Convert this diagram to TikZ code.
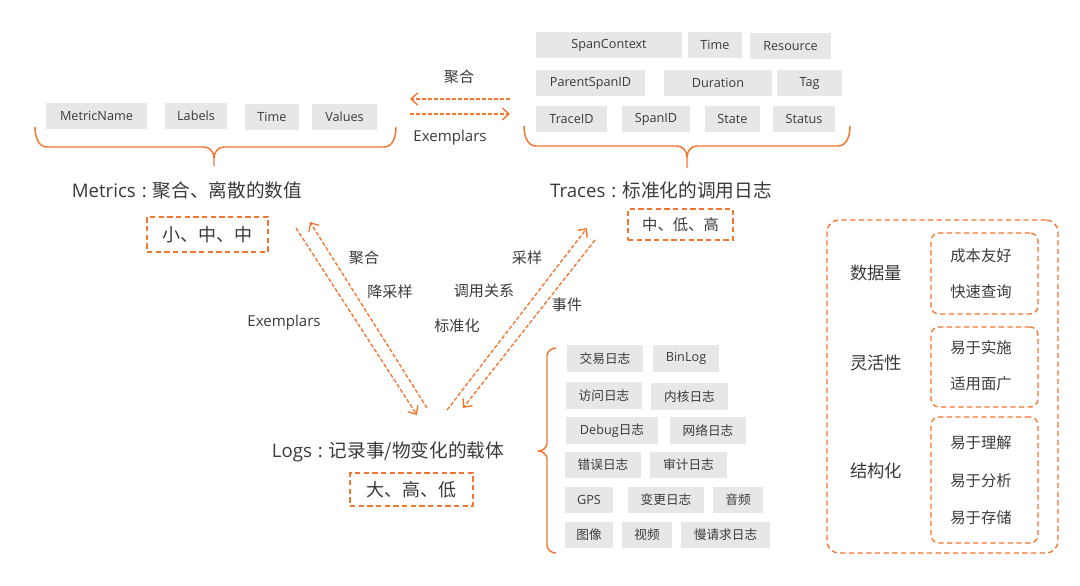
\documentclass[tikz,border=0pt]{standalone}
\usepackage{fontspec}
\setmainfont{Open Sans}
\newfontfamily\cjk{Noto Sans CJK SC}
\usetikzlibrary{arrows.meta,calc}
\definecolor{org}{RGB}{242,117,48}
\definecolor{txt}{RGB}{58,58,58}
\definecolor{gfill}{RGB}{231,231,231}
\tikzset{
 gbox/.style={fill=gfill, inner sep=0pt, text=txt, font=\fontsize{9.5}{11}\selectfont},
 brace/.style={draw=org, line width=1.1pt},
 darr/.style={draw=org, line width=1pt, dash pattern=on 3pt off 1.5pt, -{Straight Barb[length=5pt,width=9pt]}},
 dbox/.style={draw=org, line width=1pt, dash pattern=on 4pt off 2.5pt, inner sep=0pt},
 title/.style={text=txt, font=\fontsize{14}{16}\selectfont},
 lab/.style={text=txt, font=\fontsize{11.3}{14}\selectfont},
 side/.style={text=txt, font=\fontsize{13}{15}\selectfont\cjk},
 item/.style={text=txt, font=\fontsize{11.5}{14}\selectfont\cjk},
}
\newcommand\gb[6]{\node[gbox, minimum width={(#4-#2)*0.75pt}, minimum height={(#5-#3)*0.75pt}] (#1) at ({(#2+#4)/2},{(#3+#5)/2}) {#6};}
\newcommand\db[7]{\node[dbox, #7, minimum width={(#4-#2)*0.75pt}, minimum height={(#5-#3)*0.75pt}] (#1) at ({(#2+#4)/2},{(#3+#5)/2}) {#6};}
\newcommand\tcolon{\hspace{4.5pt}:\hspace{4.5pt}}
\begin{document}
\begin{tikzpicture}[x=0.75pt,y=-0.75pt]
\useasboundingbox (0,0) rectangle (1080,585);
% ---- Metrics fields
\gb{mn}{46}{103}{147}{129}{MetricName}
\gb{ml}{165}{103}{227}{129}{Labels}
\gb{mt}{245}{104}{299}{130}{Time}
\gb{mv}{312}{104}{377}{130}{Values}
\draw[brace] (35,127) to[out=-90,in=180] (47,147) -- (204,147) to[out=0,in=90] (214,158) -- (214,166);
\draw[brace] (396,127) to[out=-90,in=0] (384,147) -- (224,147) to[out=180,in=90] (214,158);
\node[title] (metrics) at (187,190) {Metrics\tcolon{\cjk 聚合、离散的数值}};
\db{mval}{147}{217}{268}{252}{{\cjk\fontsize{13.5}{16}\selectfont 小、中、中}}{text=txt}
% ---- Traces fields
\gb{sc}{536}{32}{682}{58}{SpanContext}
\gb{tt}{688}{32}{742}{58}{Time}
\gb{rs}{750}{33}{831}{59}{Resource}
\gb{ps}{536}{70}{645}{96}{ParentSpanID}
\gb{du}{664}{70}{772}{96}{Duration}
\gb{tg}{777}{70}{842}{96}{Tag}
\gb{ti}{536}{106}{607}{132}{TraceID}
\gb{si}{622}{106}{690}{132}{SpanID}
\gb{st}{705}{106}{760}{132}{State}
\gb{ss}{773}{106}{835}{132}{Status}
\draw[brace] (524,126) to[out=-90,in=180] (536,146) -- (677,146) to[out=0,in=90] (687,157) -- (687,168);
\draw[brace] (850,126) to[out=-90,in=0] (838,146) -- (697,146) to[out=180,in=90] (687,157);
\node[title] (traces) at (661,190) {Traces\tcolon{\cjk 标准化的调用日志}};
\db{tval}{628}{209}{733}{240}{{\cjk\fontsize{11.5}{14}\selectfont 中、低、高}}{text=txt}
% ---- horizontal arrows
\coordinate (h1s) at (510,99); \coordinate (h1e) at (410,99);
\coordinate (h2s) at (410,114); \coordinate (h2e) at (510,114);
\draw[darr] (h1s) -- (h1e);
\draw[darr] (h2s) -- (h2e);
\node[lab] (hjh) at (459,77) {\cjk 聚合};
\node[lab] (hex) at (450,138) {Exemplars};
% ---- Logs
\node[title] (logs) at (388,452) {Logs\tcolon{\cjk 记录事/物变化的载体}};
\db{lval}{350}{473}{473}{506}{{\cjk\fontsize{13.5}{16}\selectfont 大、高、低}}{text=txt}
% ---- V arrows
\coordinate (v1s) at (296,228); \coordinate (v1e) at (417,415);
\coordinate (v2s) at (427,408); \coordinate (v2e) at (310,222);
\coordinate (v3s) at (447,410); \coordinate (v3e) at (587,228);
\coordinate (v4s) at (595,240); \coordinate (v4e) at (463,408);
\draw[darr] (v1s) -- (v1e);
\draw[darr] (v2s) -- (v2e);
\draw[darr] (v3s) -- (v3e);
\draw[darr] (v4s) -- (v4e);
\node[lab] (l1) at (364,258) {\cjk 聚合};
\node[lab] (l2) at (390,292) {\cjk 降采样};
\node[lab] (l3) at (284,323) {Exemplars};
\node[lab] (l4) at (484,291) {\cjk 调用关系};
\node[lab] (l5) at (457,326) {\cjk 标准化};
\node[lab] (l6) at (527,258) {\cjk 采样};
\node[lab] (l7) at (567,305) {\cjk 事件};
% ---- Logs kinds
\draw[brace] (556,348) to[out=180,in=90] (547,356) -- (547,443) to[out=-90,in=0] (538,451);
\draw[brace] (556,553) to[out=180,in=-90] (547,545) -- (547,459) to[out=90,in=0] (538,451);
\gb{g1}{567}{345}{643}{372}{\cjk 交易日志}
\gb{g2}{653}{345}{719}{372}{BinLog}
\gb{g3}{566}{382}{642}{409}{\cjk 访问日志}
\gb{g4}{651}{383}{728}{410}{\cjk 内核日志}
\gb{g5}{566}{417}{658}{444}{Debug{\cjk 日志}}
\gb{g6}{670}{417}{746}{444}{\cjk 网络日志}
\gb{g7}{565}{452}{641}{478}{\cjk 错误日志}
\gb{g8}{650}{452}{727}{478}{\cjk 审计日志}
\gb{g9}{565}{487}{613}{513}{GPS}
\gb{g10}{628}{487}{704}{513}{\cjk 变更日志}
\gb{g11}{713}{487}{763}{513}{\cjk 音频}
\gb{g12}{565}{522}{613}{548}{\cjk 图像}
\gb{g13}{622}{522}{672}{548}{\cjk 视频}
\gb{g14}{681}{522}{770}{548}{\cjk 慢请求日志}
% ---- right panel
\db{panel}{827}{220}{1058}{553}{}{rounded corners=9pt}
\db{p1}{931}{233}{1038}{314}{}{rounded corners=6pt}
\db{p2}{931}{327}{1038}{407}{}{rounded corners=6pt}
\db{p3}{931}{417}{1038}{543}{}{rounded corners=6pt}
\node[side] (s1) at (876,273) {数据量};
\node[side] (s2) at (876,363) {灵活性};
\node[side] (s3) at (876,471) {结构化};
\node[item] (i1) at (981,256) {成本友好};
\node[item] (i2) at (981,292) {快速查询};
\node[item] (i3) at (981,348) {易于实施};
\node[item] (i4) at (981,384) {适用面广};
\node[item] (i5) at (981,443) {易于理解};
\node[item] (i6) at (981,481) {易于分析};
\node[item] (i7) at (981,518) {易于存储};
\end{tikzpicture}
\end{document}
